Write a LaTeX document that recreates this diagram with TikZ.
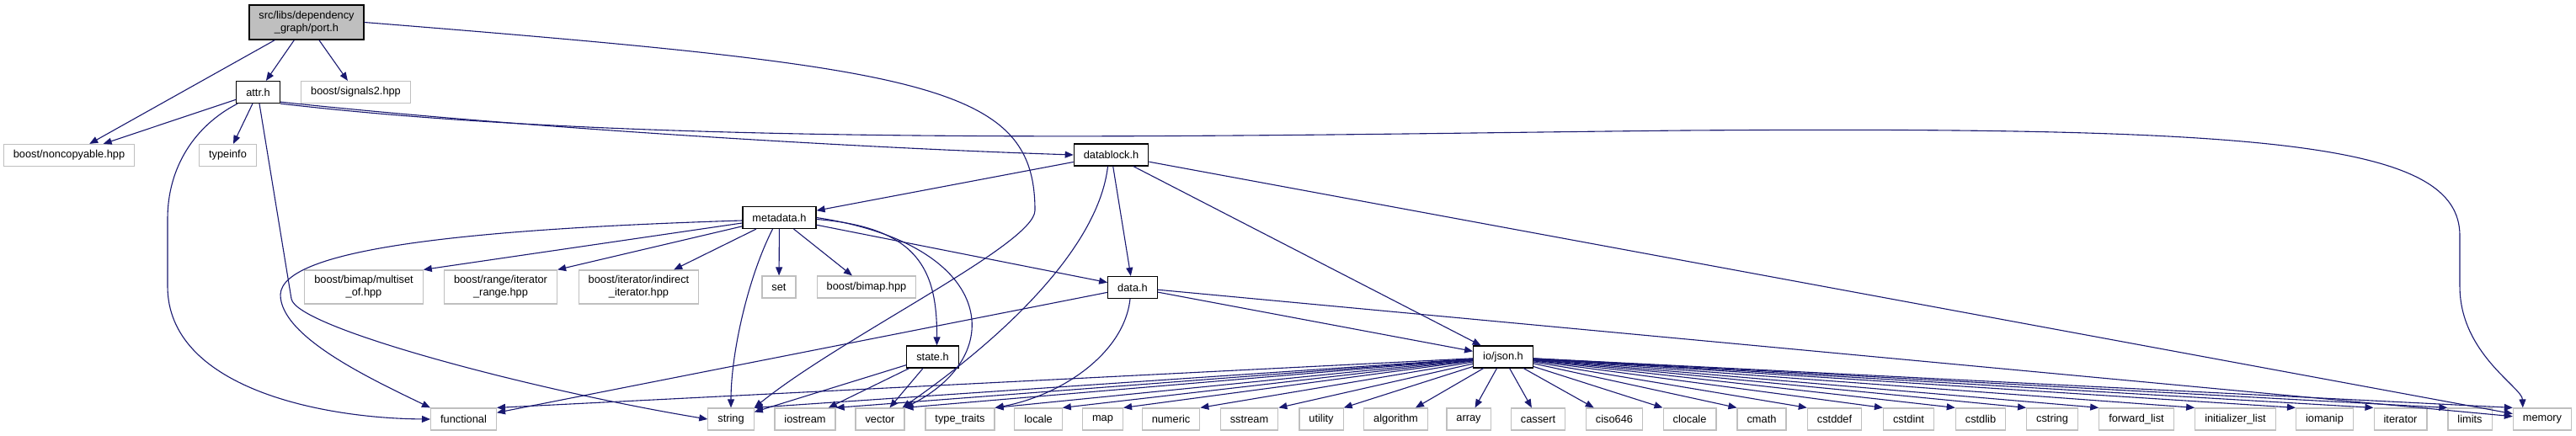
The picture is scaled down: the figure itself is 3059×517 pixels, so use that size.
\documentclass[tikz,border=0pt]{standalone}
\usepackage{fontspec}
\setmainfont{Liberation Sans}
\usetikzlibrary{arrows.meta}
\definecolor{inclblue}{RGB}{25,25,112}
\definecolor{boxgray}{RGB}{191,191,191}
\tikzset{
	localfile/.style={draw=black, line width=1.2pt, fill=white, inner xsep=11.5pt, inner ysep=0pt, minimum height=26pt, align=center, font=\fontsize{12.8}{15}\selectfont},
	sysfile/.style={localfile, draw=boxgray},
	incl/.style={draw=inclblue, line width=1.1pt, -{Triangle[length=10pt,width=8pt]}},
}
\begin{document}
\begin{tikzpicture}[x=1pt,y=-1pt]
	\useasboundingbox (0,0) rectangle (3059,517);

	\node[localfile, fill=boxgray, minimum height=41pt] (port) at (364,26.5) {src/libs/dependency\\\_graph/port.h};
	\node[localfile] (attr) at (306.5,109.5) {attr.h};
	\node[sysfile] (signals) at (422.5,109.5) {boost/signals2.hpp};
	\node[sysfile] (noncopyable) at (82,184.5) {boost/noncopyable.hpp};
	\node[sysfile] (typeinfo) at (270.5,184.5) {typeinfo};
	\node[localfile] (datablock) at (1319.5,184) {datablock.h};
	\node[localfile] (metadata) at (925.5,258.5) {metadata.h};
	\node[sysfile, minimum height=40pt] (multiset) at (432,341) {boost/bimap/multiset\\\_of.hpp};
	\node[sysfile, minimum height=40pt] (iterrange) at (594.5,341) {boost/range/iterator\\\_range.hpp};
	\node[sysfile, minimum height=40pt] (indirect) at (758.5,341) {boost/iterator/indirect\\\_iterator.hpp};
	\node[sysfile] (set) at (925,341) {set};
	\node[sysfile] (bimap) at (1029,341) {boost/bimap.hpp};
	\node[localfile] (data) at (1345,341.5) {data.h};
	\node[localfile] (state) at (1107.5,424) {state.h};
	\node[localfile] (json) at (1785,424) {io/json.h};

	\foreach \n/\x/\t in {functional/550.5/functional, string/868/string, iostream/956/iostream, vector/1045/vector,
			typetraits/1140/type\_traits, locale/1233/locale, map/1309.5/map, numeric/1390.5/numeric,
			sstream/1483.5/sstream, utility/1569/utility, algorithm/1657.5/algorithm, array/1744/array,
			cassert/1826.5/cassert, ciso646/1917/ciso646, clocale/2006.5/clocale, cmath/2092/cmath,
			cstddef/2178.5/cstddef, cstdint/2266.5/cstdint, cstdlib/2352/cstdlib, cstring/2437/cstring,
			forwardlist/2537/forward\_list, initlist/2654.5/initializer\_list, iomanip/2760.5/iomanip,
			iterator/2850.5/iterator, limits/2933/limits, memory/3019/memory}{
			\node[sysfile] (\n) at (\x,498) {\t};
		}

	\draw[incl] (port) -- (noncopyable);
	\draw[incl] (port) -- (attr);
	\draw[incl] (port) -- (signals);
	\draw[incl] (port.east) .. controls (1100,80) and (1229,100) .. (1229,250) .. controls (1229,290) and (1000,400) .. (string.north east);

	\draw[incl] (attr) -- (noncopyable);
	\draw[incl] (attr) -- (typeinfo);
	\draw[incl] ([xshift=2pt]attr.south west) .. controls (230,150) and (199,200) .. (199,260) -- (199,340) .. controls (199,460) and (380,497) .. (functional.west);
	\draw[incl] ([xshift=1.5pt]attr.south) -- (346,355) .. controls (352,390) and (640,465) .. (string.west);
	\draw[incl] ([yshift=2pt]attr.south east) .. controls (600,150) and (1000,175) .. (datablock.west);
	\draw[incl] (attr.south east) .. controls (800,178) and (1500,160) .. (2000,155) .. controls (2700,150) and (2921,170) .. (2921,280) -- (2921,340) .. controls (2921,420) and (2995,460) .. ([xshift=12pt]memory.north west);

	\draw[incl] (datablock) -- (metadata);
	\draw[incl] ([xshift=-4pt]datablock.south) .. controls (1305,290) and (1200,395) .. ([xshift=-3pt]vector.north east);
	\draw[incl] (datablock) -- (data);
	\draw[incl] (datablock) -- (json);
	\draw[incl] (datablock) -- (memory);

	\draw[incl] ([yshift=-3.5pt]metadata.west) .. controls (560,272) and (335,295) .. (333,350) .. controls (333,400) and (440,450) .. (functional.north west);
	\draw[incl] (metadata) -- (multiset.north east);
	\draw[incl] (metadata) -- (iterrange.north east);
	\draw[incl] (metadata) -- (indirect);
	\draw[incl] (metadata) -- (set);
	\draw[incl] (metadata) -- (bimap);
	\draw[incl] ([xshift=-8pt]metadata.south) .. controls (888,330) and (868,420) .. (string);
	\draw[incl] ([yshift=-2pt]metadata.east) .. controls (1090,270) and (1113,320) .. ([xshift=5pt]state.north);
	\draw[incl] (metadata.east) .. controls (1180,290) and (1200,420) .. (vector.north east);
	\draw[incl] (metadata) -- (data);

	\draw[incl] (state) -- (string);
	\draw[incl] (state) -- (iostream);
	\draw[incl] (state) -- (vector);

	\draw[incl] (data) -- (functional);
	\draw[incl] ([xshift=-3pt]data.south) .. controls (1335,420) and (1260,470) .. (typetraits.north east);
	\draw[incl] (data) -- (json);
	\draw[incl] (data) -- (memory);

	\foreach \t in {functional, string, iostream, vector, typetraits, locale, map, numeric, sstream, utility}{
			\draw[incl] (json) -- (\t.north east);
		}
	\foreach \t in {algorithm, array, cassert, ciso646}{
			\draw[incl] (json) -- (\t);
		}
	\foreach \t in {clocale, cmath, cstddef, cstdint, cstdlib, cstring, forwardlist, initlist, iomanip, iterator, limits, memory}{
			\draw[incl] (json) -- (\t.north west);
		}
\end{tikzpicture}
\end{document}
